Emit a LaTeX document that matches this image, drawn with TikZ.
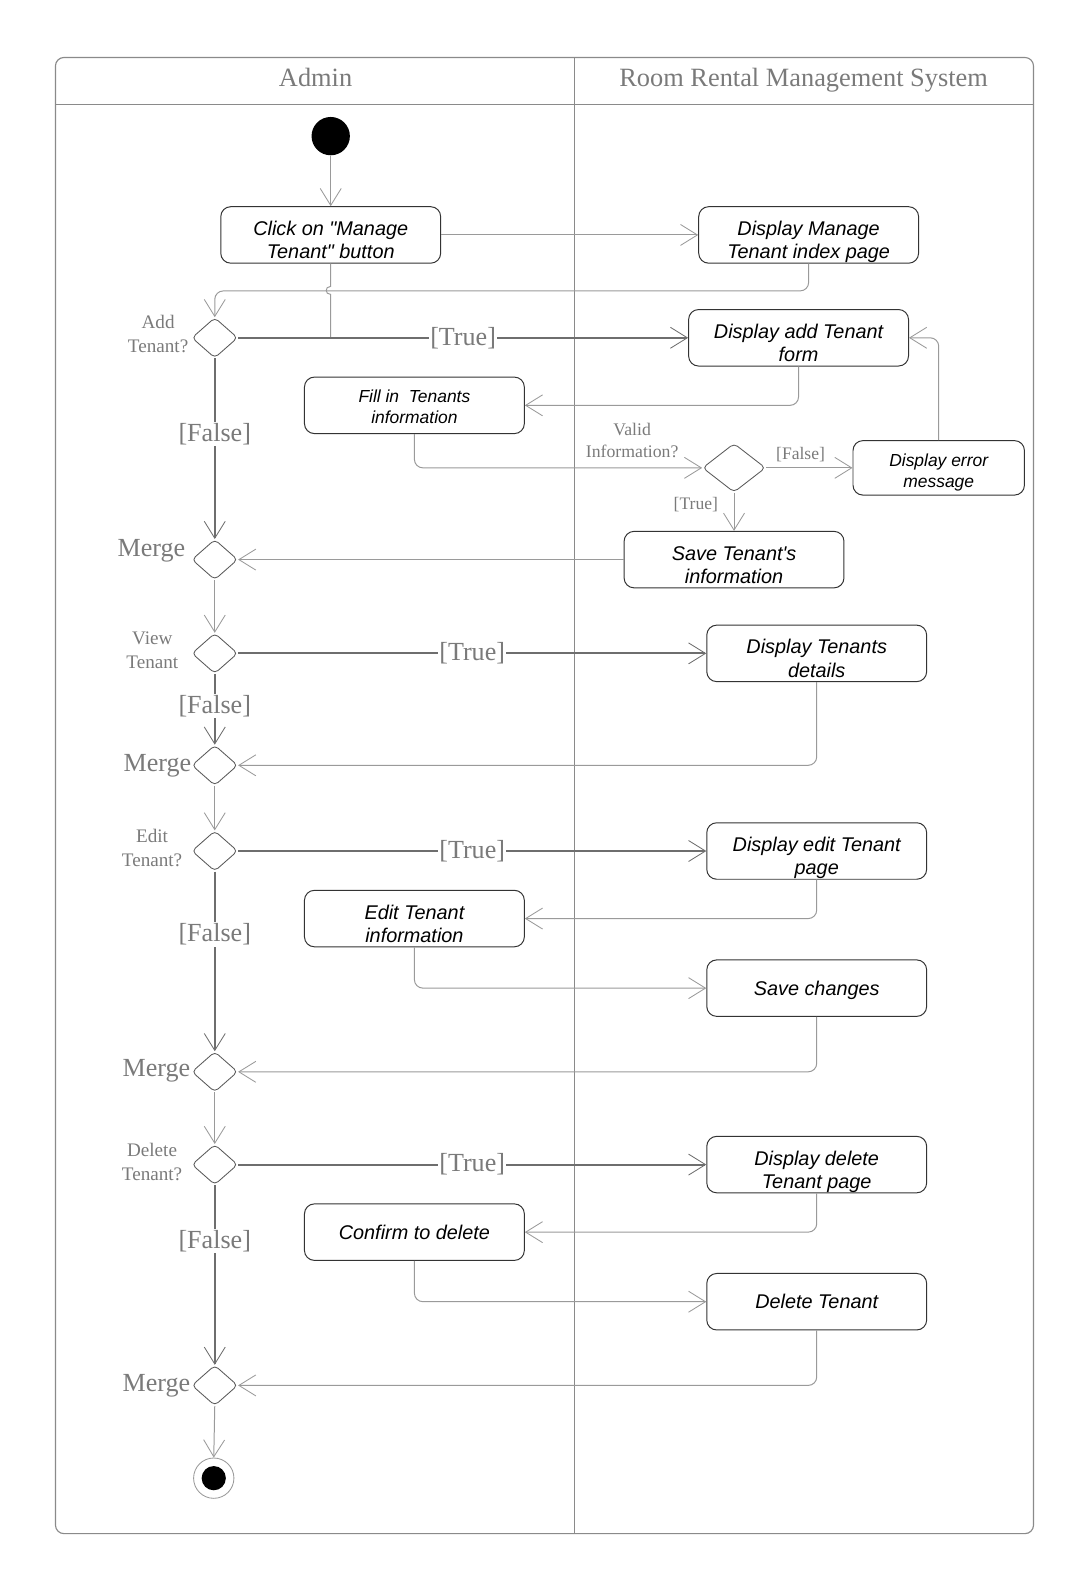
\documentclass[tikz,border=0pt]{standalone}
\usepackage{fontspec}
\usetikzlibrary{shapes.geometric, arrows.meta, positioning}
\newfontfamily\boxfont{Liberation Sans}
\newfontfamily\lblfont{Liberation Serif}
\definecolor{lblgray}{HTML}{7A7A7A}
\definecolor{maingray}{HTML}{6E6E6E}
\definecolor{thingray}{HTML}{9A9A9A}
\definecolor{framegray}{HTML}{8A8A8A}

\begin{document}
\begin{tikzpicture}[
  x=0.025cm, y=-0.025cm,
  >={Straight Barb[length=0.42cm, width=0.52cm, line width=0.6pt]},
  act/.style={rectangle, rounded corners=7pt, draw=black!80, line width=0.7pt, minimum width=5.45cm, minimum height=1.4cm, align=center, inner sep=2pt, font=\boxfont\itshape\fontsize{14}{16.5}\selectfont, text height=33.7pt, text depth=0pt},
  oneline/.style={text height=10.2pt, text depth=0pt},
  smallact/.style={act, font=\boxfont\itshape\fontsize{12.3}{14.8}\selectfont, text height=26pt},
  decision/.style={diamond, draw=black!65, line width=0.6pt, rounded corners=3pt, minimum width=1.135cm, minimum height=1cm, inner sep=0pt},
  declbl/.style={font=\lblfont\fontsize{13.5}{17}\selectfont, text=lblgray, align=center, inner sep=0pt},
  biglbl/.style={font=\lblfont\fontsize{18.4}{20}\selectfont, text=lblgray, inner sep=1pt},
  smalllbl/.style={font=\lblfont\fontsize{12.4}{15}\selectfont, text=lblgray, inner sep=1pt},
  headlbl/.style={font=\lblfont\fontsize{18.6}{20}\selectfont, text=lblgray, anchor=base},
  mainflow/.style={draw=maingray, line width=1.4pt, ->},
  flow/.style={draw=thingray, line width=0.7pt, ->, rounded corners=6pt},
  thinline/.style={draw=thingray, line width=0.7pt},
  startnode/.style={circle, fill=black, minimum size=0.95cm, inner sep=0pt},
  endnode/.style={circle, draw=thingray, line width=0.6pt, minimum size=1cm, inner sep=0pt, path picture={\fill[black] (path picture bounding box.center) circle (0.3cm);}}
]
\useasboundingbox (0,0) rectangle (1077,1568);

\draw[framegray, line width=0.8pt, rounded corners=6pt] (55,57) rectangle (1025,1521);
\draw[framegray, line width=0.8pt] (55,104) -- (1025,104);
\draw[framegray, line width=0.8pt] (570,57) -- (570,1521);
\node[headlbl] (hAdmin) at (313,86) {Admin};
\node[headlbl] (hSystem) at (797,86) {Room Rental Management System};

\node[startnode] (start) at (328,135) {};
\node[act] (bClick) at (328,233) {Click on "Manage\\Tenant" button};
\node[act] (bIndex) at (802,233) {Display Manage\\Tenant index page};
\node[decision] (dAdd) at (213,335) {};
\node[declbl, anchor=east] (lAdd) at (187,331) {Add\\Tenant?};
\node[act] (bAddForm) at (792,335) {Display add Tenant\\form};
\node[smallact] (bFill) at (411,402) {Fill in~ Tenants\\information};
\node[decision, minimum width=1.56cm, minimum height=1.21cm] (dValid) at (728,464) {};
\node[declbl, font=\lblfont\fontsize{12.5}{15.6}\selectfont] (lValid) at (627,437) {Valid\\Information?};
\node[smallact, minimum width=4.25cm, minimum height=1.35cm, text height=28pt] (bError) at (931,464) {Display error\\message};
\node[act] (bSave) at (728,555) {Save Tenant's\\information};
\node[decision] (m1) at (213,555) {};
\node[biglbl, anchor=east, inner sep=0pt] (lm1) at (184,546) {Merge};

\node[decision] (dView) at (213,648) {};
\node[declbl, anchor=east] (lView) at (177,645) {View\\Tenant};
\node[act] (bDetails) at (810,648) {Display Tenants\\details};
\node[decision] (m2) at (213,759) {};
\node[biglbl, anchor=east, inner sep=0pt] (lm2) at (190,759) {Merge};

\node[decision] (dEdit) at (213,844) {};
\node[declbl, anchor=east] (lEdit) at (181,841) {Edit\\Tenant?};
\node[act] (bEditPage) at (810,844) {Display edit Tenant\\page};
\node[act] (bEdit) at (411,911) {Edit Tenant\\information};
\node[act, oneline] (bSaveCh) at (810,980) {Save changes};
\node[decision] (m3) at (213,1063) {};
\node[biglbl, anchor=east, inner sep=0pt] (lm3) at (189,1062) {Merge};

\node[decision] (dDelete) at (213,1155) {};
\node[declbl, anchor=east] (lDelete) at (181,1152) {Delete\\Tenant?};
\node[act] (bDelPage) at (810,1155) {Display delete\\Tenant page};
\node[act, oneline] (bConfirm) at (411,1222) {Confirm to delete};
\node[act, oneline] (bDelete) at (810,1291) {Delete Tenant};
\node[decision] (m4) at (213,1374) {};
\node[biglbl, anchor=east, inner sep=0pt] (lm4) at (189,1374) {Merge};
\node[endnode] (end) at (212,1466) {};

\coordinate (jAdd) at (bClick.south |- dAdd.east);

\draw[flow] (start) -- (bClick);
\draw[flow] (bClick) -- (bIndex);
\draw[flow] (bIndex.south) -- ++(0,27) -| (dAdd.north);
\draw[thinline] (bClick.south) -- (328,284) .. controls (322,284) and (322,292) .. (328,292) -- (jAdd);
\draw[mainflow] (dAdd.east) -- node[biglbl, fill=white] {[True]} (bAddForm.west);
\draw[flow] (bAddForm.south) |- (bFill.east);
\draw[flow] (bFill.south) |- (dValid.west);
\draw[flow] (dValid.east) -- node[smalllbl, above=3pt, pos=0.4] {[False]} (bError.west);
\draw[flow] (bError.north) |- (bAddForm.east);
\draw[flow] (dValid.south) -- node[smalllbl, left=10pt, pos=0.3] {[True]} (bSave.north);
\draw[flow] (bSave.west) -- (m1.east);
\draw[mainflow] (dAdd.south) -- node[biglbl, fill=white, pos=0.42] {[False]} (m1.north);

\draw[flow] (m1.south) -- (dView.north);
\draw[mainflow] (dView.east) -- node[biglbl, fill=white] {[True]} (bDetails.west);
\draw[mainflow] (dView.south) -- node[biglbl, fill=white, pos=0.45] {[False]} (m2.north);
\draw[flow] (bDetails.south) |- (m2.east);

\draw[flow] (m2.south) -- (dEdit.north);
\draw[mainflow] (dEdit.east) -- node[biglbl, fill=white] {[True]} (bEditPage.west);
\draw[flow] (bEditPage.south) |- (bEdit.east);
\draw[flow] (bEdit.south) |- (bSaveCh.west);
\draw[flow] (bSaveCh.south) |- (m3.east);
\draw[mainflow] (dEdit.south) -- node[biglbl, fill=white, pos=0.35] {[False]} (m3.north);

\draw[flow] (m3.south) -- (dDelete.north);
\draw[mainflow] (dDelete.east) -- node[biglbl, fill=white] {[True]} (bDelPage.west);
\draw[flow] (bDelPage.south) |- (bConfirm.east);
\draw[flow] (bConfirm.south) |- (bDelete.west);
\draw[flow] (bDelete.south) |- (m4.east);
\draw[mainflow] (dDelete.south) -- node[biglbl, fill=white, pos=0.31] {[False]} (m4.north);
\draw[flow] (m4.south) -- (end.north);
\end{tikzpicture}
\end{document}
